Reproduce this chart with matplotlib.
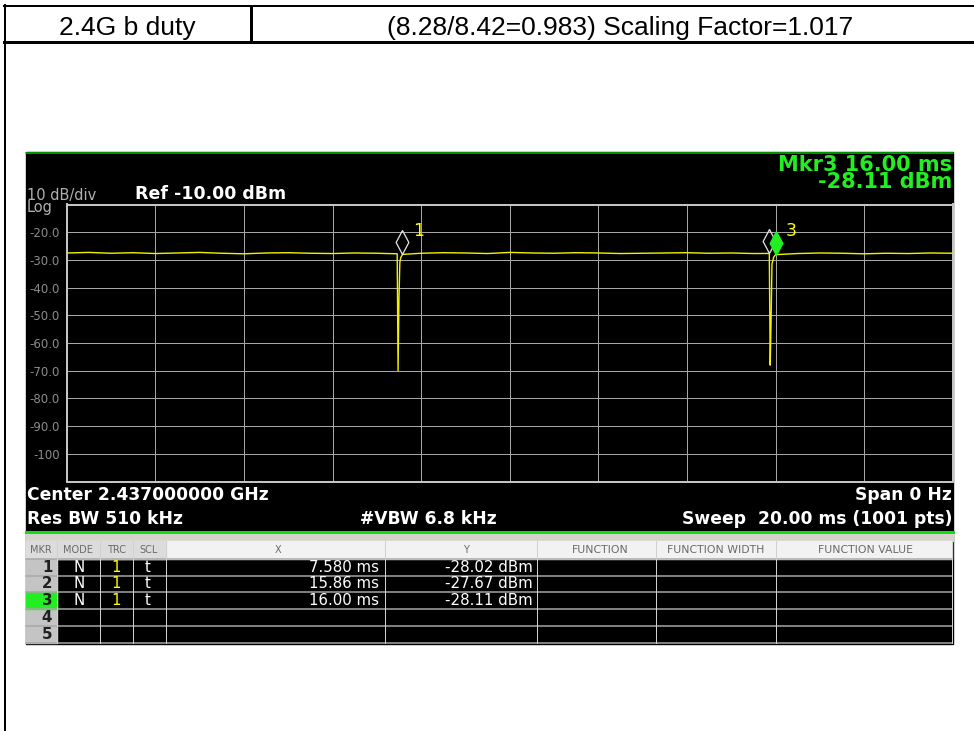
import matplotlib.pyplot as plt
from matplotlib.patches import Rectangle

# header row of the report table
cell_left = "2.4G b duty"
cell_right = "(8.28/8.42=0.983) Scaling Factor=1.017"

# trace 1, zero span, 20 ms sweep
trace_ms = [0.0, 0.5, 1.0, 1.5, 2.0, 2.5, 3.0, 3.5, 4.0, 4.5, 5.0, 5.5, 6.0, 6.5, 7.0, 7.46,
            7.48, 7.50, 7.52, 7.54, 7.58,
            8.0, 8.5, 9.0, 9.5, 10.0, 10.5, 11.0, 11.5, 12.0, 12.5, 13.0, 13.5, 14.0, 14.5, 15.0, 15.5, 15.86,
            15.88, 15.90, 15.92, 15.96, 16.00,
            16.5, 17.0, 17.5, 18.0, 18.5, 19.0, 19.5, 20.0]
trace_dbm = [-27.5, -27.3, -27.6, -27.4, -27.7, -27.5, -27.3, -27.6, -27.8, -27.5, -27.4, -27.6, -27.7, -27.5, -27.6, -27.8,
             -70.0, -44.5, -31.0, -29.2, -28.02,
             -27.6, -27.4, -27.5, -27.7, -27.3, -27.5, -27.6, -27.4, -27.5, -27.7, -27.6, -27.5, -27.4, -27.6, -27.5, -27.7, -27.67,
             -68.0, -52.5, -31.5, -29.0, -28.11,
             -27.7, -27.5, -27.6, -27.8, -27.6, -27.7, -27.5, -27.6]

# markers
marker_ids = ["1", "2", "3"]
marker_ms = [7.58, 15.86, 16.00]
marker_dbm = [-28.02, -27.67, -28.11]
marker_mode = ["N", "N", "N"]
marker_trc = ["1", "1", "1"]
marker_scl = ["t", "t", "t"]
marker_x_txt = ["7.580 ms", "15.86 ms", "16.00 ms"]
marker_y_txt = ["-28.02 dBm", "-27.67 dBm", "-28.11 dBm"]
n_rows = 5
active = 3

y_ticks = [-100, -90, -80, -70, -60, -50, -40, -30, -20]
y_labels = ["-100", "-90.0", "-80.0", "-70.0", "-60.0", "-50.0", "-40.0", "-30.0", "-20.0"]
x_ticks = [0, 2, 4, 6, 8, 10, 12, 14, 16, 18, 20]

table_heads = ["MKR", "MODE", "TRC", "SCL", "X", "Y", "FUNCTION", "FUNCTION WIDTH", "FUNCTION VALUE"]

W, H = 974, 731
fig = plt.figure(figsize=(W / 100, H / 100), dpi=100)
fig.patch.set_facecolor("white")

# page layer in pixel coordinates
bg = fig.add_axes([0, 0, 1, 1])
bg.set_xlim(0, W)
bg.set_ylim(H, 0)
bg.axis("off")
px = 0.72  # one pixel in points

# report frame
bg.plot([3.5, W], [6, 6], color="black", lw=2 * px)
bg.plot([3.5, W], [41.5, 41.5], color="black", lw=3 * px)
bg.plot([4.5, 4.5], [5, H], color="black", lw=2 * px)
bg.plot([251, 251], [6, 41.5], color="black", lw=3 * px)
bg.text(127.5, 35, cell_left, ha="center", va="baseline", fontsize=19, family="Liberation Sans")
bg.text(620, 35, cell_right, ha="center", va="baseline", fontsize=19, family="Liberation Sans")

# analyzer screen
bg.add_patch(Rectangle((26, 152), 927, 492, color="black", zorder=1))
bg.plot([26, 953], [152.5, 152.5], color="#00c000", lw=1.5 * px, zorder=2)

bold = dict(family="DejaVu Sans", fontweight="bold")
# multi-line texts: va="baseline" pins the last line
bg.text(27, 212, "10 dB/div\nLog", color="#b0b0b0", fontsize=10.5, family="DejaVu Sans",
        va="baseline", linespacing=0.78, zorder=3)
bg.text(135, 199, "Ref -10.00 dBm", color="white", fontsize=12.5, zorder=3, **bold)
bg.text(952, 188.5, f"Mkr{active} {marker_ms[active - 1]:.2f} ms\n{marker_dbm[active - 1]:.2f} dBm",
        color="#22ee22", fontsize=15, ha="right", ma="right", va="baseline", linespacing=0.82,
        zorder=3, **bold)
bg.text(27, 500.5, "Center 2.437000000 GHz", color="white", fontsize=12.3, zorder=3, **bold)
bg.text(952, 500.5, "Span 0 Hz", color="white", fontsize=12.3, ha="right", zorder=3, **bold)
bg.text(27, 524, "Res BW 510 kHz", color="white", fontsize=12.3, zorder=3, **bold)
bg.text(360, 524, "#VBW 6.8 kHz", color="white", fontsize=12.3, zorder=3, **bold)
bg.text(952, 524, "Sweep  20.00 ms (1001 pts)", color="white", fontsize=12.3, ha="right", zorder=3, **bold)
bg.plot([26, 953], [531.5, 531.5], color="#10e010", lw=3 * px, zorder=3)

# marker table
col_edges = [26, 56.7, 100, 133, 165.7, 385, 537.3, 655.7, 776, 952]
row_edges = [541, 559, 575.7, 592.3, 609, 625.7, 643.3]
bg.add_patch(Rectangle((26, 533), 927, 8, color="#d6d3cc", zorder=2))
bg.add_patch(Rectangle((26, 541), 926, 18, color="#f2f2f2", zorder=2))
bg.add_patch(Rectangle((26, 541), 139.7, 18, color="#dcdcdc", zorder=2))
bg.add_patch(Rectangle((26, 559), 30.7, 84.3, color="#c4c4c4", zorder=2))
bg.add_patch(Rectangle((26, row_edges[active]), 30.7, row_edges[active + 1] - row_edges[active],
                       color="#22ee22", zorder=2))
for y in row_edges[1:]:
    bg.plot([26, 952], [y, y], color="#a8a8a8", lw=1.5 * px, zorder=3)
for x in col_edges[1:]:
    bg.plot([x, x], [541, 643.3], color="#d0d0d0", lw=1 * px, zorder=3)
head_x = [41, 78, 117, 149, 278, 466, 600, 716, 865]
for x, t in zip(head_x, table_heads):
    bg.text(x, 550, t, ha="center", va="center", fontsize=7.8 if len(t) > 4 else 7,
            color="#6a6a6a", family="DejaVu Sans", zorder=4)
row_font = dict(family="DejaVu Sans", fontsize=10.8, va="center", zorder=4)
for i in range(n_rows):
    yc = (row_edges[i + 1] + row_edges[i + 2]) / 2
    bg.text(47, yc, str(i + 1), ha="center", color="#202020", fontweight="bold", **row_font)
    if i < len(marker_ids):
        bg.text(79, yc, marker_mode[i], ha="center", color="white", **row_font)
        bg.text(116, yc, marker_trc[i], ha="center", color="#ffff00", **row_font)
        bg.text(148, yc, marker_scl[i], ha="center", color="white", **row_font)
        bg.text(379, yc, marker_x_txt[i], ha="right", color="white", **row_font)
        bg.text(533, yc, marker_y_txt[i], ha="right", color="white", **row_font)

# graticule and trace
left, right, top, bottom = 66.7, 952.7, 204.5, 481.5
ax = fig.add_axes([left / W, 1 - bottom / H, (right - left) / W, (bottom - top) / H])
ax.set_zorder(5)
ax.set_facecolor("black")
ax.set_xlim(0, 20)
ax.set_ylim(-110, -10)
ax.set_xticks(x_ticks)
ax.set_xticklabels([])
ax.set_yticks(y_ticks)
ax.set_yticklabels(y_labels, family="DejaVu Sans", fontsize=8.5, color="#8c8c8c")
ax.tick_params(length=0, pad=4.8)
ax.grid(True, color="#a6a6a6", lw=1 * px)
for s in ax.spines.values():
    s.set_color("#c4c4c4")
    s.set_linewidth(2 * px)

ax.plot(trace_ms, trace_dbm, color="#f0f000", lw=1.4 * px, zorder=3)

diamond = [(0, 0), (0.265, 0.5), (0, 1), (-0.265, 0.5), (0, 0)]
for i, (m, d) in enumerate(zip(marker_ms, marker_dbm)):
    on = (i + 1) == active
    ax.plot([m], [d], marker=diamond, ms=34.5, ls="none", zorder=4 + on,
            mfc="#22ee22" if on else "none", mec="#22ee22" if on else "#e0e0e0", mew=1.3 * px)
for i in (0, 2):
    ax.annotate(marker_ids[i], (marker_ms[i], marker_dbm[i]), xytext=(7.5, 13.5),
                textcoords="offset points", color="#ffff00", fontsize=12.5,
                family="DejaVu Sans", va="baseline", ha="left", annotation_clip=False, zorder=6)

fig.savefig("out.png", dpi=100, facecolor="white")
